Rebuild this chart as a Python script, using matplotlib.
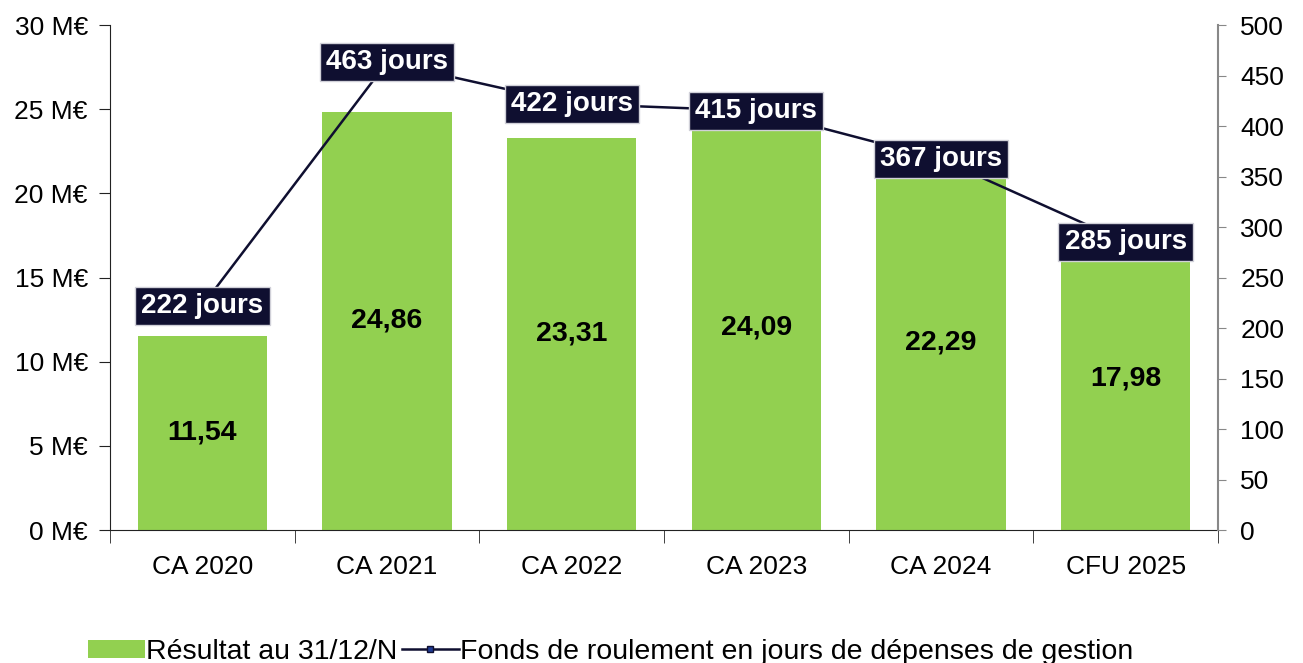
import matplotlib
matplotlib.use("Agg")
import matplotlib.pyplot as plt
from matplotlib.lines import Line2D
from matplotlib.patches import Patch

plt.rcParams['font.family'] = ['Liberation Sans', 'DejaVu Sans']

categories = ["CA 2020", "CA 2021", "CA 2022", "CA 2023", "CA 2024", "CFU 2025"]
resultat = [11.54, 24.86, 23.31, 24.09, 22.29, 17.98]
jours = [222, 463, 422, 415, 367, 285]
left_ticks = [0, 5, 10, 15, 20, 25, 30]
right_ticks = [0, 50, 100, 150, 200, 250, 300, 350, 400, 450, 500]

bar_color = "#92D050"
navy = "#0F0F30"

W, H = 1303, 663
fig = plt.figure(figsize=(W / 100, H / 100), dpi=100)
ax = fig.add_axes([110 / W, 1 - 530 / H, (1218 - 110) / W, (530 - 25) / H])
ax2 = ax.twinx()

x = list(range(len(categories)))
ax.bar(x, resultat, width=0.70, color=bar_color, zorder=1)
ax.set_xlim(-0.5, len(categories) - 0.5)
ax.set_ylim(0, 30)
ax.set_yticks(left_ticks)
ax.set_yticklabels([f"{v} M€" for v in left_ticks], fontsize=19)
ax.set_xticks(x)
ax.set_xticklabels(categories, fontsize=19)
ax.tick_params(axis='x', length=0, pad=18)
ax.set_xticks([i + 0.5 for i in range(-1, len(categories))], minor=True)
ax.tick_params(axis='x', which='minor', length=9, direction='out', color='#222222')
ax.tick_params(axis='y', length=8, direction='out', color='#222222', pad=8)
for s in ['top', 'right']:
    ax.spines[s].set_visible(False)
ax.spines['left'].set_color('#222222')
ax.spines['bottom'].set_color('#222222')

for xi, v in zip(x, resultat):
    ax.text(xi, v / 2, f"{v:.2f}".replace('.', ','), ha='center', va='center',
            fontsize=20.5, fontweight='bold', color='black', zorder=3)

ax2.set_ylim(0, 500)
ax2.set_yticks(right_ticks)
ax2.set_yticklabels([str(v) for v in right_ticks], fontsize=19)
ax2.tick_params(axis='y', length=6, direction='out', color='#888888', pad=10)
for s in ['top', 'left', 'bottom']:
    ax2.spines[s].set_visible(False)
ax2.spines['right'].set_color('#888888')
ax2.spines['right'].set_linewidth(1.5)

ax2.plot(x, jours, color=navy, linewidth=1.8, marker='s', markersize=5,
         markerfacecolor='#1F3A93', markeredgecolor=navy, zorder=2)
for xi, v in zip(x, jours):
    ax2.text(xi, v, f"{v} jours", ha='center', va='center', fontsize=20,
             fontweight='bold', color='white', zorder=4,
             bbox=dict(boxstyle='square,pad=0.22', facecolor=navy, edgecolor='#D0D0D8', linewidth=1))

handles = [Patch(facecolor=bar_color, edgecolor='none'),
           Line2D([0], [0], color=navy, linewidth=1.8, marker='s', markersize=5,
                  markerfacecolor='#1F3A93', markeredgecolor=navy)]
labels = ["Résultat au 31/12/N", "Fonds de roulement en jours de dépenses de gestion"]
fig.legend(handles, labels, loc='center left', bbox_to_anchor=(88 / W, 1 - 652 / H),
           ncol=2, frameon=False, fontsize=20.5, handlelength=2.0, handletextpad=0.05,
           columnspacing=0.15, handleheight=0.6, borderaxespad=0, borderpad=0)

fig.savefig("out.png", dpi=100)
